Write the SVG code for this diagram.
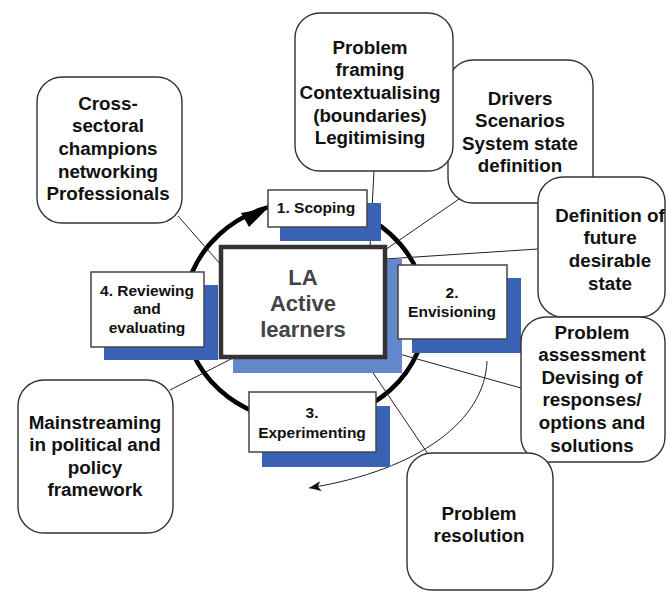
<svg xmlns="http://www.w3.org/2000/svg" width="666" height="592" viewBox="0 0 666 592">
  <defs>
    <style>
      .note{fill:#fff;stroke:#333;stroke-width:1.4}
      .step{fill:#fff;stroke:#444;stroke-width:1.5}
      .shadow{fill:#3962b4}
      .t{font-family:"Liberation Sans",Arial,sans-serif;font-weight:bold;text-anchor:middle;fill:#111}
      .nt{font-size:18.8px}
      .st{font-size:15.5px}
      .core{font-size:22px;fill:#444}
      .link{stroke:#222;stroke-width:1;fill:none}
    </style>
    <marker id="tip" markerUnits="userSpaceOnUse" markerWidth="14" markerHeight="12" refX="12" refY="5" orient="auto">
      <path d="M0,0 L12,5 L0,10 L3,5 z" fill="#111"/>
    </marker>
  </defs>

  <rect width="666" height="592" fill="#fff"/>

  <!-- learning cycle ring -->
  <g id="cycle">
    <ellipse cx="305" cy="312" rx="121" ry="110" fill="none" stroke="#000" stroke-width="4.5"/>
    <polygon points="268,208 249,227 241,213" fill="#000"/>
  </g>

  <!-- connectors -->
  <g id="connectors">
    <line class="link" x1="374" y1="171" x2="370" y2="248"/>
    <line class="link" x1="385" y1="250" x2="462" y2="197"/>
    <line class="link" x1="385" y1="259" x2="538" y2="249"/>
    <line class="link" x1="385" y1="350" x2="521" y2="388"/>
    <line class="link" x1="363" y1="358" x2="428" y2="454"/>
    <line class="link" x1="178" y1="216" x2="222" y2="266"/>
    <line class="link" x1="170" y1="390" x2="235" y2="357"/>
    <path class="link" d="M487,361 C485,420 420,470 309,488" stroke-width="1.2" marker-end="url(#tip)"/>
  </g>

  <!-- central node -->
  <g id="active-learners">
    <rect x="233" y="259" width="169" height="114" fill="#6388cb"/>
    <rect x="221" y="247" width="164" height="110" fill="#fff" stroke="#333" stroke-width="4.5"/>
    <text class="t core" x="303" y="285">LA</text>
    <text class="t core" x="303" y="311">Active</text>
    <text class="t core" x="303" y="337">learners</text>
  </g>

  <!-- cycle stages -->
  <g id="scoping">
    <rect class="shadow" x="280" y="203" width="101" height="38"/>
    <rect class="step" x="268" y="190" width="99" height="37"/>
    <text class="t st" x="316" y="213">1. Scoping</text>
  </g>
  <g id="envisioning">
    <rect class="shadow" x="412" y="278" width="109" height="75"/>
    <rect class="step" x="398" y="265" width="109" height="74"/>
    <text class="t st" x="452" y="297.5">2.</text>
    <text class="t st" x="452" y="316.5">Envisioning</text>
  </g>
  <g id="experimenting">
    <rect class="shadow" x="262" y="406" width="128" height="61"/>
    <rect class="step" x="249" y="392" width="127" height="60"/>
    <text class="t st" x="312" y="417.5">3.</text>
    <text class="t st" x="312" y="437.5">Experimenting</text>
  </g>
  <g id="reviewing">
    <rect class="shadow" x="104" y="285" width="114" height="75"/>
    <rect class="step" x="91" y="272" width="113" height="75"/>
    <text class="t st" x="147" y="295.5">4. Reviewing</text>
    <text class="t st" x="147" y="314">and</text>
    <text class="t st" x="147" y="332.5">evaluating</text>
  </g>

  <!-- outcome notes -->
  <g id="drivers">
    <rect class="note" x="448" y="60" width="145" height="143" rx="25"/>
    <text class="t nt" x="520" y="104.6">Drivers</text>
    <text class="t nt" x="520" y="127.1">Scenarios</text>
    <text class="t nt" x="520" y="149.6">System state</text>
    <text class="t nt" x="520" y="172.1">definition</text>
  </g>
  <g id="problem-framing">
    <rect class="note" x="295" y="13" width="158" height="158" rx="25"/>
    <text class="t nt" x="370" y="53.5">Problem</text>
    <text class="t nt" x="370" y="76.2">framing</text>
    <text class="t nt" x="370" y="98.9">Contextualising</text>
    <text class="t nt" x="370" y="121.6">(boundaries)</text>
    <text class="t nt" x="370" y="144.3">Legitimising</text>
  </g>
  <g id="future-state">
    <rect class="note" x="538" y="177" width="127" height="140" rx="25"/>
    <text class="t nt" x="610" y="221.6">Definition of</text>
    <text class="t nt" x="610" y="244.3">future</text>
    <text class="t nt" x="610" y="267">desirable</text>
    <text class="t nt" x="610" y="289.7">state</text>
  </g>
  <g id="problem-assessment">
    <rect class="note" x="521" y="317" width="144" height="145" rx="25"/>
    <text class="t nt" x="592" y="338.6">Problem</text>
    <text class="t nt" x="592" y="361.2">assessment</text>
    <text class="t nt" x="592" y="383.8">Devising of</text>
    <text class="t nt" x="592" y="406.4">responses/</text>
    <text class="t nt" x="592" y="429">options and</text>
    <text class="t nt" x="592" y="451.6">solutions</text>
  </g>
  <g id="problem-resolution">
    <rect class="note" x="407" y="453" width="146" height="137" rx="25"/>
    <text class="t nt" x="479" y="519.6">Problem</text>
    <text class="t nt" x="479" y="542">resolution</text>
  </g>
  <g id="champions">
    <rect class="note" x="37" y="77" width="145" height="146" rx="25"/>
    <text class="t nt" x="108" y="109.6">Cross-</text>
    <text class="t nt" x="108" y="132.3">sectoral</text>
    <text class="t nt" x="108" y="155">champions</text>
    <text class="t nt" x="108" y="177.6">networking</text>
    <text class="t nt" x="108" y="200.3">Professionals</text>
  </g>
  <g id="mainstreaming">
    <rect class="note" x="18" y="380" width="155" height="153" rx="26"/>
    <text class="t nt" x="95" y="428.6">Mainstreaming</text>
    <text class="t nt" x="95" y="451.2">in political and</text>
    <text class="t nt" x="95" y="473.8">policy</text>
    <text class="t nt" x="95" y="496.4">framework</text>
  </g>
</svg>
